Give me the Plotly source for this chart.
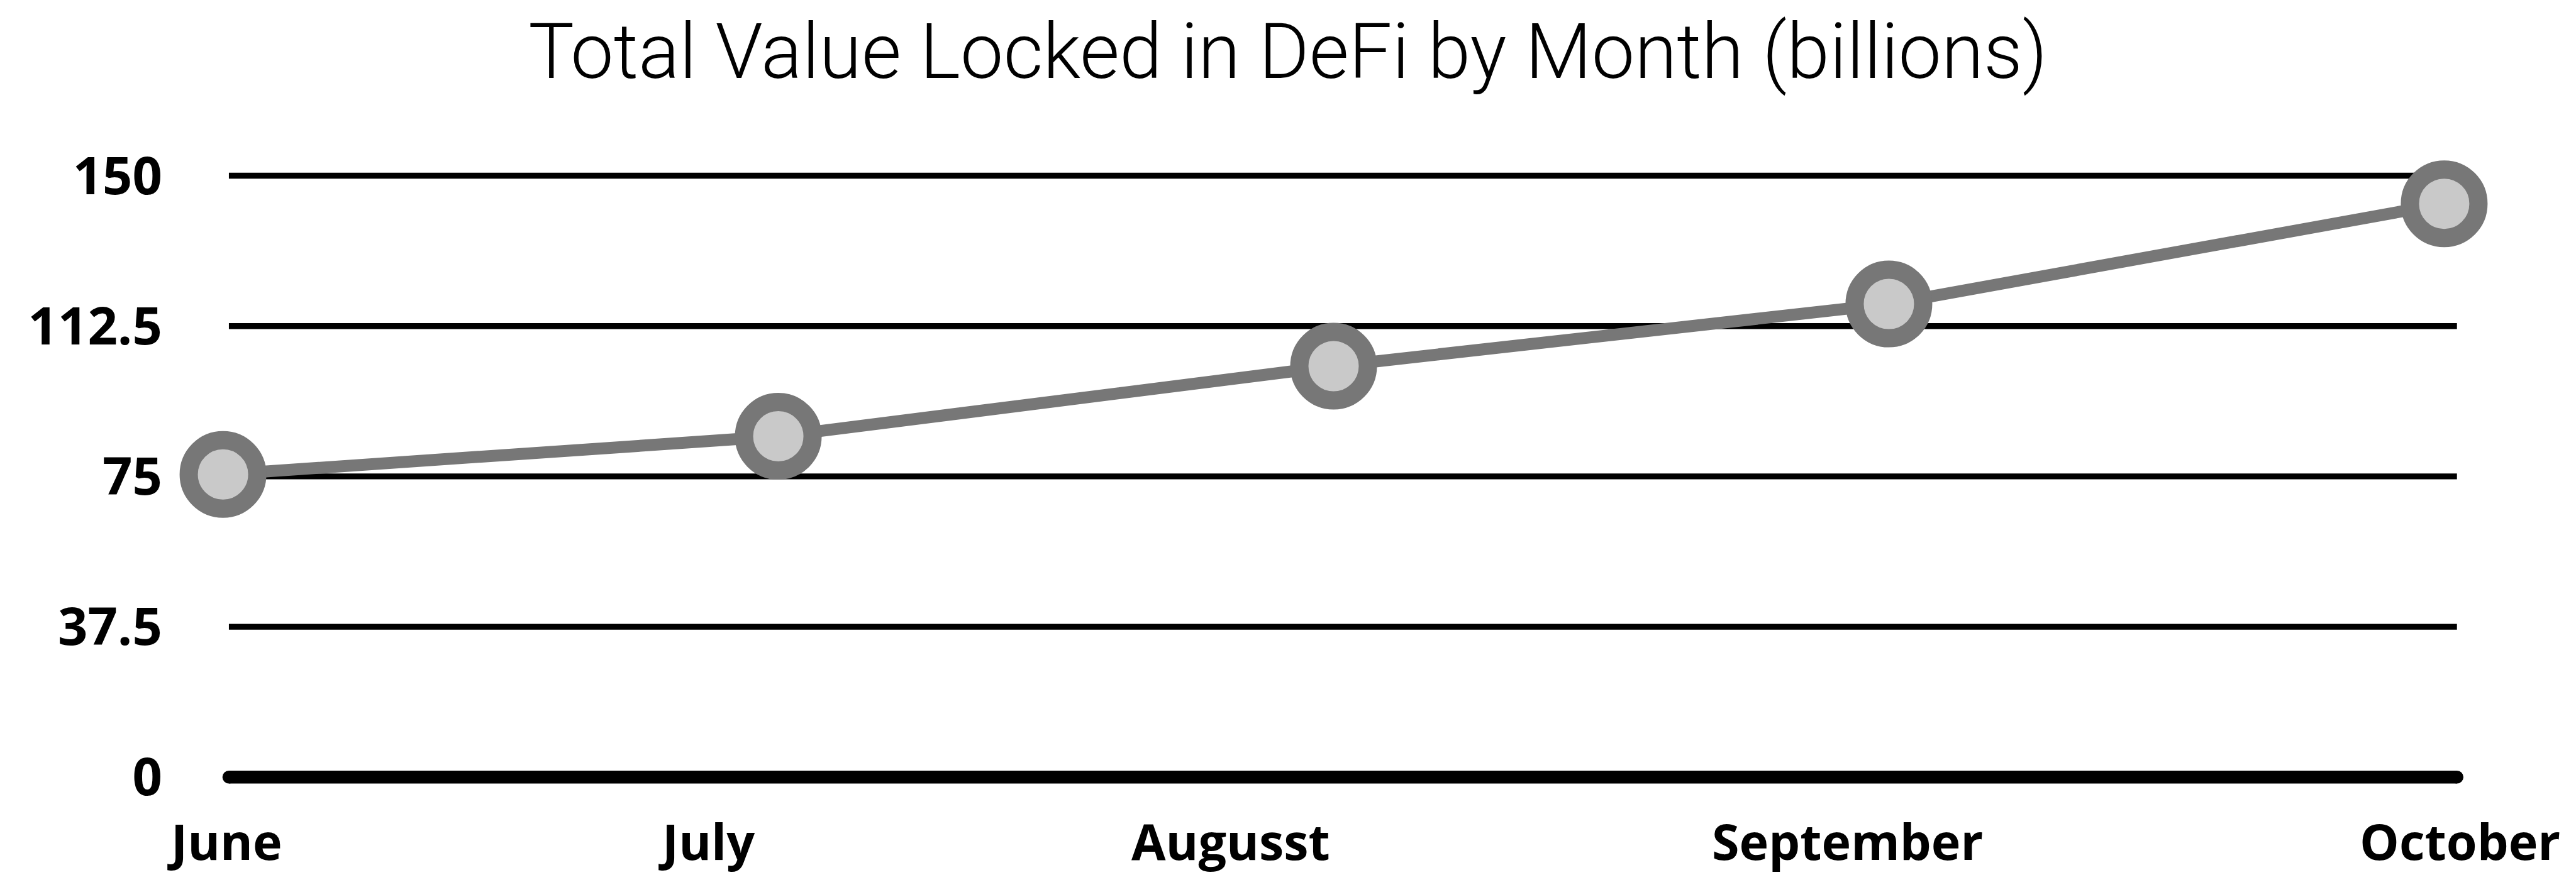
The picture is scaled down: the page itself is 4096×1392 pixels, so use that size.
import plotly.graph_objects as go

# ---- data ----
months = ["June", "July", "Augusst", "September", "October"]
tvl = [75.5, 85, 102.5, 118, 143]
y_tickvals = [0, 37.5, 75, 112.5, 150]
y_ticktext = ["0", "37.5", "75", "112.5", "150"]
title_text = "Total Value Locked in DeFi by Month (billions)"

# layout positions (category units) for month labels and grid extent
label_x = [0.003, 0.871, 1.815, 2.925, 4.028]
grid_x0, grid_x1 = 0.0106, 4.023

W, H = 4096, 1392
X_RANGE = [-0.2, 4.2]
ML, MR, MT, MB = 178, 33, 200, 92
plot_w = W - ML - MR
y_axis_pos = (364 - ML) / plot_w

LABEL_FONT = dict(family="Open Sans", size=79, color="#000000", weight="bold")
TICK_FONT = dict(family="Open Sans", size=83, color="#000000", weight="bold")

fig = go.Figure()

# horizontal grid lines (limited extent), drawn from the tick values
for v in y_tickvals:
    fig.add_shape(
        type="line", xref="x", yref="y",
        x0=grid_x0, x1=grid_x1, y0=v, y1=v,
        line=dict(color="#000000", width=20.6 if v == 0 else 9.4),
        layer="below",
    )
# rounded ends of the baseline
for gx in (grid_x0, grid_x1):
    fig.add_shape(
        type="circle", xref="x", yref="y",
        xsizemode="pixel", ysizemode="pixel",
        xanchor=gx, yanchor=0,
        x0=-10.3, x1=10.3, y0=-10.3, y1=10.3,
        fillcolor="#000000", line=dict(width=0),
        layer="below",
    )

fig.add_trace(go.Scatter(
    x=list(range(len(months))),
    y=tvl,
    mode="lines+markers",
    line=dict(color="#777777", width=19),
    marker=dict(size=109, color="#c9c9c9", line=dict(color="#777777", width=29)),
    cliponaxis=False,
    hoverinfo="skip",
    showlegend=False,
))

for lx, m in zip(label_x, months):
    fig.add_annotation(
        x=lx, xref="x", y=0, yref="paper",
        text=m, showarrow=False,
        xanchor="center", yanchor="middle", yshift=-37,
        font=LABEL_FONT,
    )

fig.update_layout(
    width=W, height=H,
    margin=dict(l=ML, r=MR, t=MT, b=MB, autoexpand=False),
    paper_bgcolor="white", plot_bgcolor="white",
    title=dict(
        text=title_text, x=0.5, xref="container", xanchor="center",
        y=1 - 81 / H, yref="container", yanchor="middle",
        font=dict(family="Roboto", size=122, color="#000000", weight=300),
    ),
    xaxis=dict(
        range=X_RANGE, showgrid=False, zeroline=False,
        showline=False, showticklabels=False, ticks="", fixedrange=True,
    ),
    yaxis=dict(
        range=[-9.99, 162.46], tickvals=y_tickvals, ticktext=y_ticktext,
        anchor="free", position=y_axis_pos,
        showgrid=False, zeroline=False,
        showline=False, ticks="", ticklabelstandoff=106,
        tickfont=TICK_FONT,
        fixedrange=True,
    ),
)

fig.write_html(
    "out.html",
    config={"displayModeBar": False},
    post_script="document.body.style.margin='0px';document.body.style.overflow='hidden';",
)
